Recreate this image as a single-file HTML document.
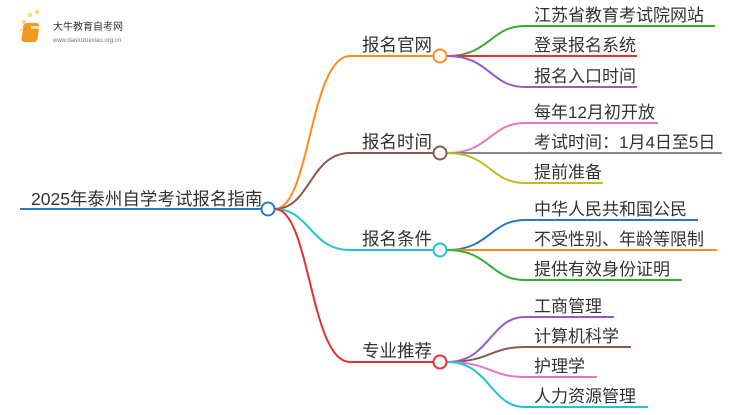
<!DOCTYPE html>
<html><head><meta charset="utf-8"><style>
body{margin:0;background:#fff;width:750px;height:410px;overflow:hidden}
svg text{font-family:"Liberation Sans","Noto Sans CJK SC",sans-serif;fill:#333}
</style></head><body>
<svg width="750" height="410" viewBox="0 0 750 410" xmlns="http://www.w3.org/2000/svg">
<!-- logo -->
<g>
<circle cx="24" cy="22" r="2" fill="#ffd36a"/><circle cx="30" cy="15" r="2" fill="#ffd36a"/><circle cx="37" cy="12" r="2" fill="#ffd36a"/><circle cx="21" cy="30" r="1.6" fill="#ffe29a"/><circle cx="22" cy="38" r="1.4" fill="#ffe29a"/>
<rect x="27" y="23" width="16" height="19" rx="3" fill="#f39a1e" transform="skewX(-8)"/>
<rect x="31" y="26" width="10" height="3" fill="#fff" opacity=".6"/>
<text x="53" y="30" font-size="10" style="fill:#333">大牛教育自考网</text>
<text x="53" y="42" font-size="6" style="fill:#777">www.daniuzuexiao.org.cn</text>
</g>
<g fill="none" stroke-width="2">
<!-- root -->
<path d="M20 209H261" stroke="#2a7abf"/>
<path d="M275 209C310 209 310 56 350 56H433" stroke="#ff8c1a"/>
<path d="M275 209C310 209 310 153 350 153H433" stroke="#8b5a4a"/>
<path d="M275 209C310 209 310 250 350 250H433" stroke="#26c0d3"/>
<path d="M275 209C310 209 310 362 350 362H433" stroke="#e03030"/>
<!-- leaves 1 -->
<path d="M447 56C490 56 490 26 525 26H715" stroke="#3aaa35"/>
<path d="M447 56H637" stroke="#e03030"/>
<path d="M447 56C490 56 490 87 525 87H637" stroke="#9b59c6"/>
<!-- leaves 2 -->
<path d="M447 153C490 153 490 123 525 123H658" stroke="#e377c2"/>
<path d="M447 153H722" stroke="#888"/>
<path d="M447 153C490 153 490 183 525 183H603" stroke="#bcbd22"/>
<!-- leaves 3 -->
<path d="M447 250C490 250 490 220 525 220H698" stroke="#2a7abf"/>
<path d="M447 250H717" stroke="#ff8c1a"/>
<path d="M447 250C490 250 490 280 525 280H682" stroke="#3aaa35"/>
<!-- leaves 4 -->
<path d="M447 362C490 362 490 317 525 317H614" stroke="#9b59c6"/>
<path d="M447 362C490 362 490 347 525 347H631" stroke="#8b5a4a"/>
<path d="M447 362C490 362 490 377 525 377H597" stroke="#e377c2"/>
<path d="M447 362C490 362 490 407 525 407H648" stroke="#26c0d3"/>
</g>
<g fill="#fff" stroke-width="2">
<circle cx="268" cy="209" r="6.5" stroke="#2a7abf"/>
<circle cx="440" cy="56" r="6.5" stroke="#ff8c1a"/>
<circle cx="440" cy="153" r="6.5" stroke="#8b5a4a"/>
<circle cx="440" cy="250" r="6.5" stroke="#26c0d3"/>
<circle cx="440" cy="362" r="6.5" stroke="#e03030"/>
</g>
<g font-size="17.5">
<text x="31" y="205">2025年泰州自学考试报名指南</text>
</g>
<g font-size="17.5">
<text x="362" y="51">报名官网</text>
<text x="362" y="148">报名时间</text>
<text x="362" y="245">报名条件</text>
<text x="362" y="357">专业推荐</text>
</g>
<g font-size="17">
<text x="534" y="21">江苏省教育考试院网站</text>
<text x="534" y="51">登录报名系统</text>
<text x="534" y="82">报名入口时间</text>
<text x="534" y="118">每年12月初开放</text>
<text x="534" y="148">考试时间：1月4日至5日</text>
<text x="534" y="178">提前准备</text>
<text x="534" y="215">中华人民共和国公民</text>
<text x="534" y="245">不受性别、年龄等限制</text>
<text x="534" y="275">提供有效身份证明</text>
<text x="534" y="312">工商管理</text>
<text x="534" y="342">计算机科学</text>
<text x="534" y="372">护理学</text>
<text x="534" y="402">人力资源管理</text>
</g>
</svg>
</body></html>
